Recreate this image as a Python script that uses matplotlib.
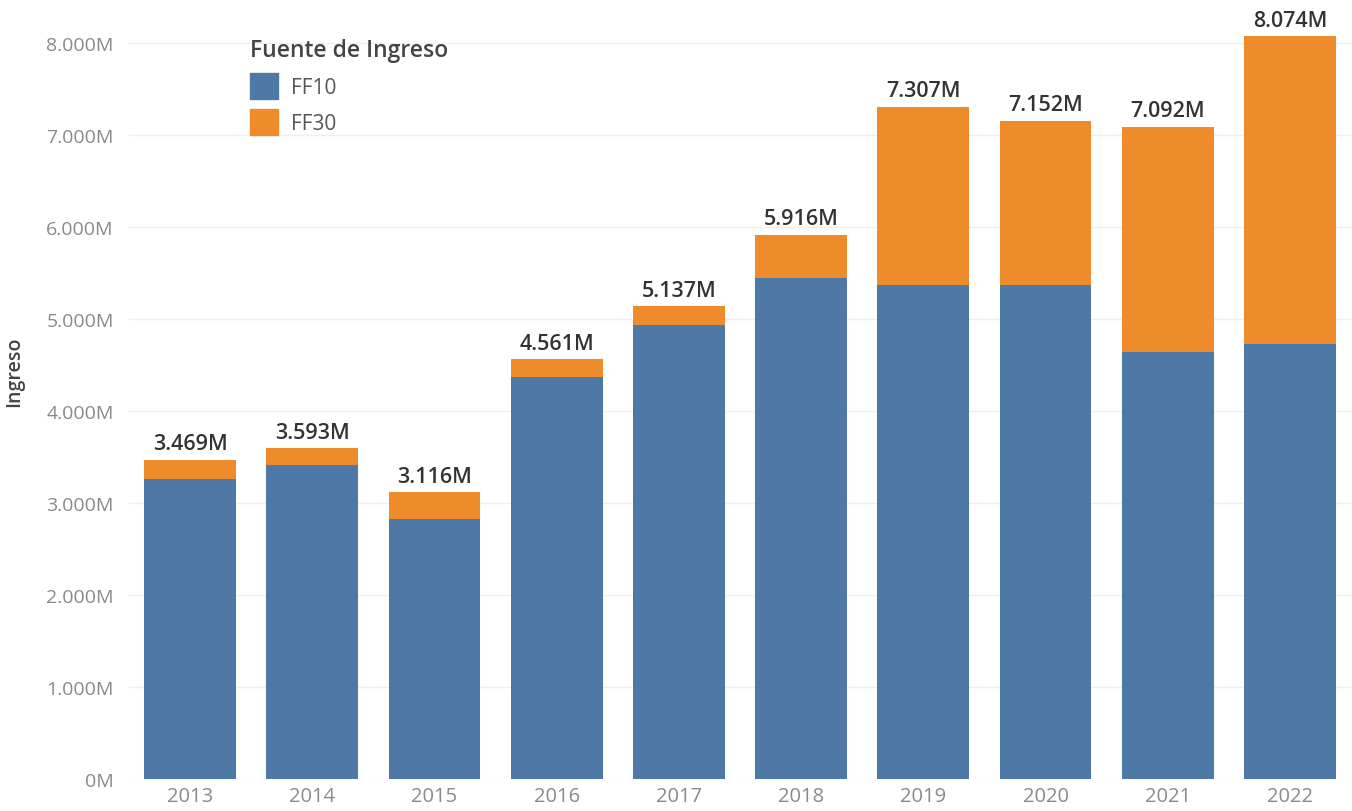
import matplotlib
matplotlib.use("Agg")
import matplotlib.pyplot as plt
from matplotlib.patches import Patch

plt.rcParams['font.family'] = ['Open Sans', 'DejaVu Sans']

# datos (en millones)
years = ['2013', '2014', '2015', '2016', '2017', '2018', '2019', '2020', '2021', '2022']
totals = [3.469, 3.593, 3.116, 4.561, 5.137, 5.916, 7.307, 7.152, 7.092, 8.074]
ff10 = [3.26, 3.41, 2.83, 4.37, 4.94, 5.45, 5.37, 5.37, 4.64, 4.73]
ff30 = [round(t - b, 3) for t, b in zip(totals, ff10)]
yticks = [0, 1, 2, 3, 4, 5, 6, 7, 8]
ytick_labels = ['0M', '1.000M', '2.000M', '3.000M', '4.000M', '5.000M', '6.000M', '7.000M', '8.000M']

blue = '#4e79a7'
orange = '#ee8b2b'

fig = plt.figure(figsize=(13.52, 8.12), dpi=100)
ax = fig.add_axes([129 / 1352, 32 / 812, 1222 / 1352, 778 / 812])

x = range(len(years))
ax.bar(x, ff10, width=0.75, color=blue, zorder=2)
top = ax.bar(x, ff30, bottom=ff10, width=0.75, color=orange, zorder=2)
ax.bar_label(top, labels=[f'{t:.3f}M' for t in totals], padding=4,
             fontsize=15.5, color='#333333', fontweight='semibold')

ax.set_xlim(-0.5, len(years) - 0.5)
ax.set_ylim(0, 778 / 92)
ax.set_xticks(list(x))
ax.set_xticklabels(years, fontsize=14.5, color='#8a8a8a')
ax.set_yticks(yticks)
ax.set_yticklabels(ytick_labels, fontsize=14, color='#8a8a8a')
ax.tick_params(length=0)
ax.tick_params(axis='y', pad=11)
ax.tick_params(axis='x', pad=5)

ax.grid(axis='y', color='#efefef', linewidth=1, zorder=0)
for s in ax.spines.values():
    s.set_visible(False)

ax.set_ylabel('Ingreso', fontsize=14, color='#444444', fontweight='semibold')
ax.yaxis.set_label_coords(-0.086, 0.525)

handles = [Patch(color=blue, label='FF10'), Patch(color=orange, label='FF30')]
leg = ax.legend(handles=handles, title='Fuente de Ingreso', loc='upper left',
                bbox_to_anchor=(242 / 1352, 1 - 31 / 812), bbox_transform=fig.transFigure,
                frameon=False, fontsize=15, title_fontsize=16.5,
                handlelength=1.35, handleheight=1.55, handletextpad=0.6,
                labelspacing=0.5, alignment='left', borderaxespad=0)
leg.get_title().set_color('#444444')
leg.get_title().set_fontweight('semibold')
for t in leg.get_texts():
    t.set_color('#555555')

fig.savefig('out.png', dpi=100, facecolor='white')
